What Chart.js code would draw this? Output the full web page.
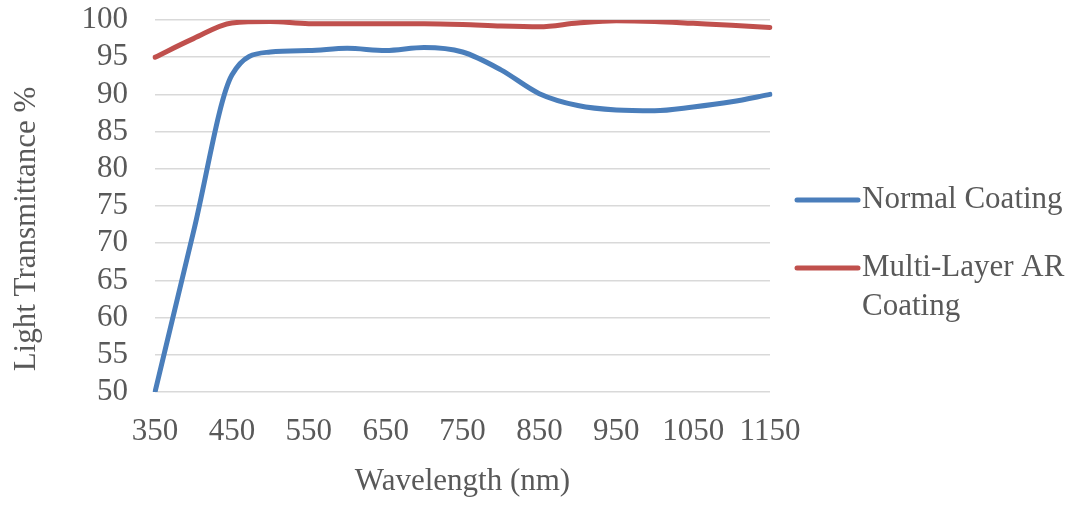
<!DOCTYPE html>
<html>
<head>
<meta charset="utf-8">
<script src="https://cdn.jsdelivr.net/npm/chart.js@4"></script>
<style>
html,body{margin:0;padding:0;background:#fff;}
#wrap{position:relative;width:1082px;height:506px;}
</style>
</head>
<body>
<div id="wrap"><canvas id="c" width="1082" height="506"></canvas></div>
<script>
const wavelengths = [350,400,450,500,550,600,650,700,750,800,850,900,950,1000,1050,1100,1150];
const normalCoating = [50,71.5,92.6,95.7,95.9,96.2,95.9,96.3,95.7,93.3,90.1,88.5,87.9,87.8,88.3,89.0,90.0];
const multiLayerAR = [95,97.5,99.6,99.8,99.5,99.5,99.5,99.5,99.4,99.2,99.1,99.6,99.9,99.8,99.55,99.3,99.0];
const seriesLabels = [['Normal Coating'], ['Multi-Layer AR', 'Coating']];
const yTitle = 'Light Transmittance %';
const xTitle = 'Wavelength (nm)';
const yTicks = {min:50, max:100, step:5};

const FONT = "'Liberation Serif','Times New Roman',serif";
const FS = 31;
const GRAY = '#595959';

const extrasPlugin = {
  id: 'extras',
  afterDraw(chart){
    const ctx = chart.ctx;
    const ds = chart.data.datasets;
    const x0 = 797, x1 = 858, tx = 862;
    const rows = [200, 268];
    ctx.save();
    ctx.font = FS + "px " + FONT;
    ctx.textBaseline = 'middle';
    ctx.textAlign = 'left';
    ds.forEach((d, i) => {
      const y = rows[i];
      ctx.strokeStyle = d.borderColor;
      ctx.lineWidth = 5;
      ctx.lineCap = 'round';
      ctx.beginPath(); ctx.moveTo(x0, y); ctx.lineTo(x1, y); ctx.stroke();
      ctx.fillStyle = GRAY;
      seriesLabels[i].forEach((t, k) => ctx.fillText(t, tx, y + k * 39));
    });
    // y axis title
    ctx.translate(27, 229);
    ctx.rotate(-Math.PI / 2);
    ctx.textAlign = 'center';
    ctx.fillText(yTitle, 0, 0);
    ctx.restore();
  }
};

new Chart(document.getElementById('c'), {
  type: 'line',
  data: {
    labels: wavelengths,
    datasets: [
      {label: seriesLabels[0].join(' '), data: normalCoating, borderColor: '#4A7EBB', borderWidth: 5, pointRadius: 0, cubicInterpolationMode: 'monotone', fill: false, borderCapStyle: 'round'},
      {label: seriesLabels[1].join(' '), data: multiLayerAR, borderColor: '#C0504D', borderWidth: 5, pointRadius: 0, cubicInterpolationMode: 'monotone', fill: false, borderCapStyle: 'round'}
    ]
  },
  options: {
    responsive: false,
    animation: false,
    devicePixelRatio: 1,
    layout: {padding: {top: 20, right: 312, left: 0, bottom: 0}},
    plugins: {legend: {display: false}, tooltip: {enabled: false}},
    scales: {
      x: {
        type: 'category',
        offset: false,
        grid: {display: false, drawTicks: false},
        border: {display: false},
        ticks: {
          autoSkip: false, maxRotation: 0, padding: 21,
          color: GRAY, font: {family: FONT, size: FS},
          callback: function(v, i){ return i % 2 === 0 ? this.getLabelForValue(v) : ''; }
        },
        title: {display: true, text: xTitle, color: GRAY, font: {family: FONT, size: FS}, padding: {top: 0, bottom: 6}},
        afterFit: s => { s.height = 114; s.paddingLeft = 0; s.paddingRight = 0; }
      },
      y: {
        min: yTicks.min, max: yTicks.max,
        grid: {color: '#D9D9D9', lineWidth: 1.5, drawTicks: false},
        border: {display: false},
        ticks: {stepSize: yTicks.step, autoSkip: false, padding: 27, color: GRAY, font: {family: FONT, size: FS}},
        afterFit: s => { s.width = 155; s.paddingTop = 0; s.paddingBottom = 0; }
      }
    }
  },
  plugins: [extrasPlugin]
});
</script>
</body>
</html>
